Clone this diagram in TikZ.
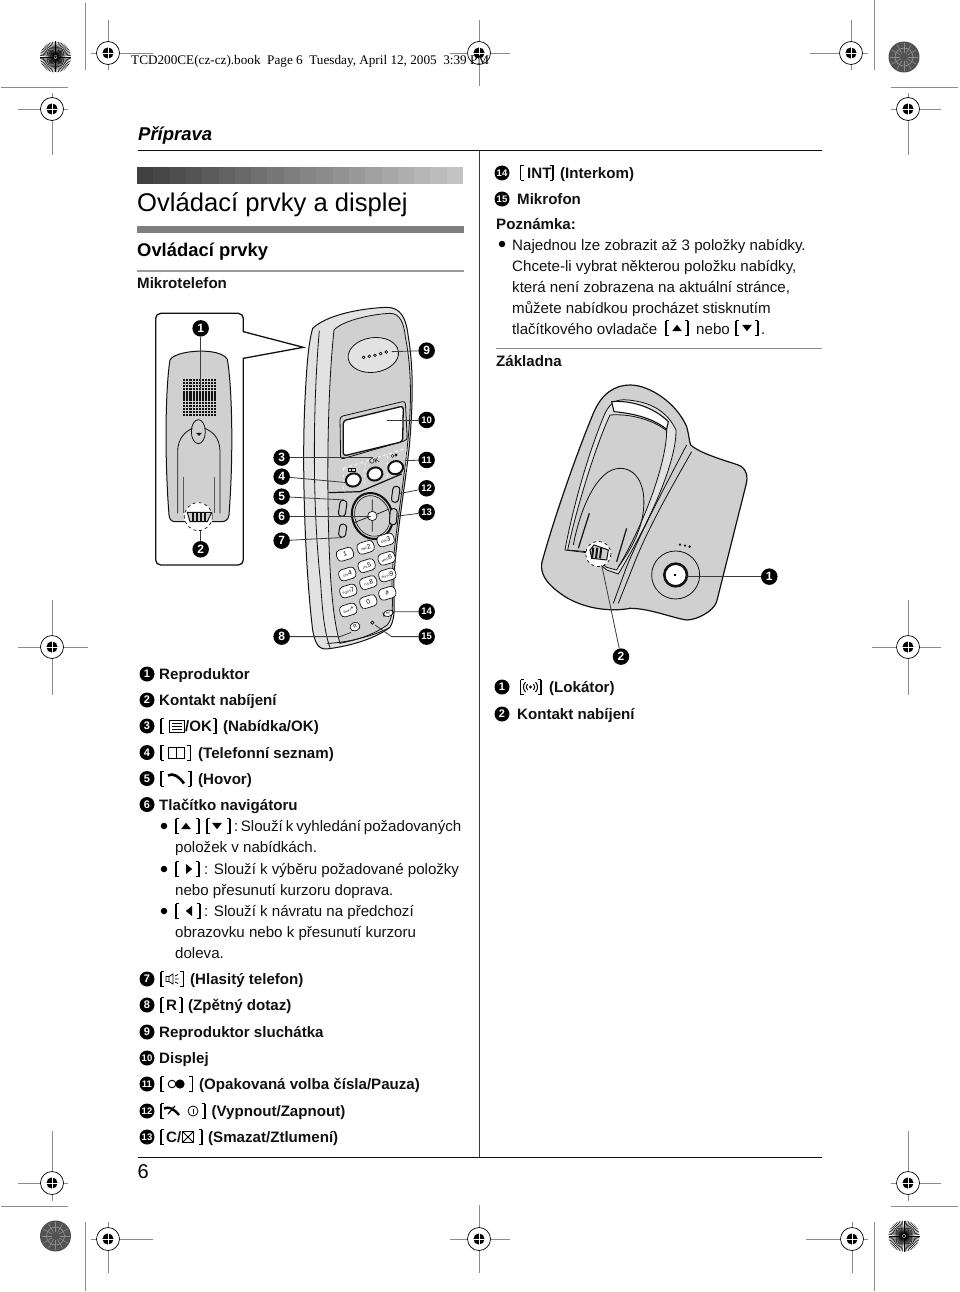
\documentclass[tikz,border=0pt]{standalone}
\usepackage{fontspec}
\setmainfont{Liberation Sans}
\newfontfamily\serifhead{Liberation Serif}
\usetikzlibrary{arrows.meta,positioning,shapes,calc}
\definecolor{ink}{HTML}{111111}
\definecolor{rulegray}{HTML}{7F7F7F}
\definecolor{regray}{HTML}{8C8C8C}
\definecolor{bodygray}{HTML}{D0D0D0}
\definecolor{edgegray}{HTML}{E2E2E2}
\definecolor{leadgray}{HTML}{3A3A3A}
\tikzset{
  marker/.style={circle,fill=black,text=white,inner sep=0pt,minimum size=16.5pt,
                 font=\bfseries\fontsize{12}{12}\selectfont},
  markerw/.style={marker,font=\bfseries\fontsize{9.5}{9.5}\selectfont},
  leader/.style={draw=leadgray,line width=0.8pt},
  itemtext/.style={anchor=base west,inner sep=0pt,font=\bfseries\fontsize{15.1}{15.1}\selectfont,text=ink},
  plaintext/.style={anchor=base west,inner sep=0pt,font=\fontsize{15.1}{15.1}\selectfont,text=ink},
  bulletdot/.style={circle,fill=black,inner sep=0pt,minimum size=6.5pt},
  phonekey/.style={draw=ink,fill=white,line width=0.7pt,rounded corners=4pt,inner sep=0pt,
                   minimum width=17pt,minimum height=11.5pt,rotate=17,
                   font=\fontsize{6.5}{6.5}\selectfont},
  softkey/.style={draw=ink,fill=white,line width=2pt,ellipse,inner sep=0pt,
                  minimum width=15pt,minimum height=13pt,rotate=17},
  sidekey/.style={draw=ink,fill=bodygray,line width=1pt,rounded corners=3pt,
                  inner sep=0pt,minimum width=7pt,minimum height=16pt,rotate=-8},
  phoneline/.style={draw=ink,line width=0.8pt},
  regline/.style={draw=regray,line width=0.9pt},
  brackl/.pic={\draw[line width=1.9pt] (0,-7.5)--(0,7.5);
               \draw[line width=0.8pt] (0,-7.5)--(3.2,-7.5) (0,7.5)--(3.2,7.5);},
  brackr/.pic={\draw[line width=1.9pt] (0,-7.5)--(0,7.5);
               \draw[line width=0.8pt] (0,-7.5)--(-3.2,-7.5) (0,7.5)--(-3.2,7.5);},
  uptri/.pic={\fill (-5,3.2)--(5,3.2)--(0,-3.2)--cycle;},
  downtri/.pic={\fill (-5,-3.2)--(5,-3.2)--(0,3.2)--cycle;},
  righttri/.pic={\fill (-3,-5)--(-3,5)--(3.2,0)--cycle;},
  lefttri/.pic={\fill (3,-5)--(3,5)--(-3.2,0)--cycle;},
  menuicon/.pic={\draw[line width=1pt] (-7.5,-6) rectangle (7.5,6);
                 \draw[line width=1pt] (-5,-3)--(5,-3) (-5,0)--(5,0) (-5,3)--(5,3);},
  bookicon/.pic={\draw[line width=1pt] (-8,-5.5) rectangle (0,5.5) (0,-5.5) rectangle (8,5.5);},
  handseticon/.pic={\draw[line width=2.6pt] (-8,-3) .. controls (-3,-6) and (3,-2) .. (8,5);},
  speakericon/.pic={\draw[line width=0.8pt] (-6,-2.5) rectangle (-3,2.5)
                    (-3,-2.5)--(1,-5)--(1,5)--(-3,2.5)
                    (3,-3)--(6,-4.5) (3,0)--(6.5,0) (3,3)--(6,4.5);},
  redialicon/.pic={\draw[line width=0.9pt] (-4,0) circle[radius=3.8];
                   \fill (4,0) circle[radius=4.6];},
  officon/.pic={\draw[line width=2.4pt] (-8,-2.5) .. controls (-3,-5) and (2,-2) .. (7,4);
                \draw[line width=1.2pt] (-4,3)--(3,-5);
                \draw[line width=0.8pt] (21,0) circle[radius=5];
                \draw[line width=1pt] (21,-2.5)--(21,2.5);},
  muteicon/.pic={\draw[line width=0.8pt] (-5.5,-5.5) rectangle (5.5,5.5)
                 (-5.5,-5.5)--(5.5,5.5) (-5.5,5.5)--(5.5,-5.5);},
  locicon/.pic={\fill (0,0) circle[radius=1.6];
                \draw[line width=1pt] (-3,3) arc[start angle=135,end angle=225,radius=4.2]
                 (-5,5) arc[start angle=135,end angle=225,radius=7]
                 (3,3) arc[start angle=45,end angle=-45,radius=4.2]
                 (5,5) arc[start angle=45,end angle=-45,radius=7];},
  regmark/.pic={\draw[line width=0.7pt,fill=white] (0,0) circle[radius=11.5];
                \fill (0,0) circle[radius=5.6];
                \draw[white,line width=0.8pt] (-5.6,0)--(5.6,0) (0,-5.6)--(0,5.6);},
  starlight/.pic={\fill[white] (0,0) circle[radius=15.5];
                  \foreach \a in {0,6,...,354}{\draw[line width=0.5pt] (\a:2)--(\a:15.5);}
                  \fill (0,0) circle[radius=1.5];},
  stardark/.pic={\fill[black!68] (0,0) circle[radius=15.5];
                 \foreach \a in {0,30,...,330}{\draw[black!45,line width=0.6pt] (\a:4)--(\a:14);}
                 \draw[black!40,line width=0.6pt] (0,0) circle[radius=9];}
}
\begin{document}
\begin{tikzpicture}[x=1pt,y=-1pt]
  \useasboundingbox (0,0) rectangle (960,1292);

  % printer marks
  \foreach \cx/\cy/\hl/\hr/\vt/\vb in {108/53/91/153/20/70,52/109/18/68/93/155,
     479/53/450/510/20/86,851/53/810/868/20/70,908/109/891/941/93/155,
     52/647/18/88/600/695,908/647/872/941/600/695,
     52/1183/18/68/1131/1201,908/1183/891/941/1131/1201,
     108/1239/91/153/1222/1273,479/1239/450/510/1205/1273,852/1239/806/868/1222/1273}{
    \draw[regline] (\hl,\cy)--(\hr,\cy) (\cx,\vt)--(\cx,\vb);
    \pic at (\cx,\cy) {regmark};
  }
  \pic at (55.5,57) {starlight};
  \pic at (904,1236) {starlight};
  \pic at (904,57) {stardark};
  \pic at (55.5,1236) {stardark};
  \draw[regline] (85,3)--(85,70) (1,87.5)--(68,87.5);
  \draw[regline] (874,0)--(874,70) (891,87.5)--(958,87.5);
  \draw[regline] (85,1222)--(85,1291) (1,1206)--(68,1206);
  \draw[regline] (874,1222)--(874,1291) (891,1206)--(958,1206);

  \node[anchor=base west,inner sep=0pt,font=\serifhead\fontsize{13.2}{13.2}\selectfont] (bookline) at (131,65)
    {TCD200CE(cz-cz).book\ \ Page 6\ \ Tuesday, April 12, 2005\ \ 3:39 PM};

  % page head
  \node[anchor=base west,inner sep=0pt,font=\bfseries\itshape\fontsize{18.5}{18.5}\selectfont] (chapter) at (138,141)
    {Příprava};
  \draw[ink,line width=1pt] (138,151)--(822,151);
  \draw[ink,line width=1pt] (138,1157.5)--(822,1157.5);
  \draw[leadgray,line width=1pt] (479,151)--(479,1157);
  \foreach \i in {0,...,19}{
    \pgfmathsetmacro{\shade}{75-\i*2.7}
    \fill[black!\shade] (137+\i*16.3,167) rectangle (137+\i*16.3+16.4,184);
  }
  \node[anchor=base west,inner sep=0pt,font=\fontsize{25.6}{25.6}\selectfont] (title) at (137,211.5)
    {Ovládací prvky a displej};
  \fill[rulegray] (137,226) rectangle (464,232.5);
  \node[anchor=base west,inner sep=0pt,font=\bfseries\fontsize{18.4}{18.4}\selectfont] (sect) at (137,256.5)
    {Ovládací prvky};
  \fill[black!40] (137,270) rectangle (464,271.8);
  \node[itemtext] (handsetname) at (137,288.5) {Mikrotelefon};
  \node[anchor=base west,inner sep=0pt,font=\fontsize{20}{20}\selectfont] (pageno) at (137.5,1178) {6};

  % handset, coordinates taken from a 3x crop
  \begin{scope}[shift={(130,300)},x=0.3333pt,y=-0.3333pt]
    % back view box with callout
    \draw[ink,line width=1.3pt,fill=white] (340,175) [rounded corners=5pt] -- (340,795) -- (77,795)
      -- (77,40) -- (340,40) [sharp corners] -- (340,95) -- (520,142) -- cycle;
    \draw[phoneline,fill=bodygray,line width=1pt] (120,180) .. controls (135,150) and (270,140) .. (292,178)
      .. controls (305,250) and (312,450) .. (297,645) .. controls (295,660) and (285,665) .. (275,665)
      -- (135,665) .. controls (125,665) and (118,658) .. (117,645)
      .. controls (102,450) and (108,250) .. (120,180) -- cycle;
    \foreach \gx in {0,...,10}{\foreach \gy in {0,...,12}{
      \fill[ink] (160+\gx*9.2,236+\gy*8.9) rectangle ++(6.2,6.2);
    }}
    \draw[phoneline] (143,640) -- (143,450) .. controls (145,415) and (165,395) .. (187,385);
    \draw[phoneline] (270,640) -- (270,450) .. controls (268,415) and (250,395) .. (224,385);
    \draw[phoneline] (205,395) ellipse[x radius=21,y radius=36];
    \fill[ink] (198,399) -- (216,399) -- (207,408) -- cycle;
    \draw[ink!70,line width=1.6pt] (160,530)--(160,640) (253,530)--(253,640);
    \draw[white,fill=white] (205,650) circle[radius=42];
    \draw[phoneline,dashed,line width=0.7pt] (205,650) circle[radius=42];
    \draw[phoneline,fill=bodygray,line width=1pt] (172,637) -- (245,637) -- (232,665) -- (180,665) -- cycle;
    \foreach \sx in {186,198,210,222}{\fill[ink] (\sx,635) rectangle ++(5,30);}
    \coordinate (backspk) at (212,270);
    \coordinate (backcon) at (212,692);
    \node[marker] (mk1) at (212,85) {1};
    \node[marker] (mk2) at (212,748) {2};
    \draw[leader] (mk1) -- (backspk);
    \draw[leader] (mk2) -- (backcon);

    % front body
    \draw[phoneline,fill=edgegray,line width=1pt] (548,85) .. controls (590,45) and (690,25) .. (770,22)
      .. controls (810,22) and (828,50) .. (835,110) .. controls (850,200) and (850,300) .. (838,440)
      .. controls (825,560) and (800,700) .. (792,830) .. controls (790,900) and (800,950) .. (780,982)
      .. controls (730,1020) and (650,1040) .. (590,1047) .. controls (565,1048) and (555,1030) .. (548,990)
      .. controls (525,800) and (515,500) .. (525,300) .. controls (530,200) and (535,130) .. (548,85) -- cycle;
    \draw[phoneline,fill=bodygray] (612,90) .. controls (640,60) and (730,42) .. (780,40)
      .. controls (810,40) and (822,70) .. (826,110) .. controls (846,210) and (845,320) .. (832,440)
      .. controls (820,560) and (795,700) .. (786,830) .. controls (785,890) and (795,950) .. (772,975)
      .. controls (730,1005) and (680,1020) .. (630,1030) .. controls (615,980) and (605,900) .. (600,800)
      .. controls (590,600) and (590,300) .. (612,90) -- cycle;
    \draw[phoneline] (568,92) .. controls (550,300) and (545,600) .. (572,850) .. controls (578,950) and (585,1000) .. (600,1043);
    \draw[phoneline] (590,1030) .. controls (640,1030) and (730,1010) .. (780,982);
    % earpiece
    \draw[phoneline,fill=edgegray,rotate around={8:(730,165)}] (730,165) ellipse[x radius=76,y radius=52];
    \foreach \dx/\dy in {701/172,718/169,735/166,752/161,769/156}{
      \draw[ink,line width=0.7pt,fill=white] (\dx,\dy) circle[radius=4];
    }
    % display
    \draw[phoneline,rounded corners=3pt] (630,350) -- (826,303) -- (832,420) -- (632,478) -- cycle;
    \draw[phoneline,fill=white,line width=1.3pt,rounded corners=3pt] (640,362) -- (820,318) -- (818,425) -- (640,468) -- cycle;
    % soft key panel
    \draw[phoneline,line width=1.2pt] (595,578) -- (690,575) -- (815,522);
    \draw[white,dashed,line width=0.8pt] (640,505) -- (828,445) (640,505) -- (640,570)
      (705,488) -- (705,557) (772,468) -- (772,540) (828,445) -- (828,520);
    \draw[ink,line width=0.8pt] (655,505) rectangle (665,515) (665,505) rectangle (675,515);
    \node[font=\fontsize{7}{7}\selectfont,rotate=17] (oklabel) at (733,483) {OK};
    \fill[ink] (798,465) circle[radius=5];
    \draw[ink] (788,468) circle[radius=4.5];
    \node[softkey] (softa) at (670,540) {};
    \node[softkey] (softb) at (735,522) {};
    \node[softkey] (softc) at (797,503) {};
    % navigator
    \draw[ink,line width=2pt,fill=bodygray,rotate around={20:(727,648)}] (727,648) ellipse[x radius=60,y radius=70];
    \draw[ink,line width=0.6pt,rotate around={20:(727,648)}] (727,648) ellipse[x radius=52,y radius=62];
    \draw[ink,line width=0.7pt] (727,598)--(727,634) (727,662)--(727,695) (672,668)--(714,652) (740,643)--(775,628);
    \draw[ink,line width=0.7pt,fill=white] (727,648) circle[radius=14];
    \node[sidekey] (talk) at (638,625) {};
    \node[sidekey,minimum height=13pt] (spk) at (638,692) {};
    \node[sidekey] (offk) at (797,583) {};
    \node[sidekey,rotate=4] (cmute) at (790,650) {};
    % keypad
    \foreach \kx/\ky/\kn/\ksm/\kdig in {645/763/one//1,707/742/two/ABC/2,767/720/three/DEF/3,
        652/822/four/GHI/4,710/797/five/JKL/5,770/775/six/MNO/6,
        655/873/seven/PQRS/7,715/848/eight/TUV/8,772/825/nine/WXYZ/9,
        655/930/star/SHIFT/*,715/905/zero//0,772/880/hash//\#}{
      \node[phonekey] (key\kn) at (\kx,\ky) {{\fontsize{3}{3}\selectfont\ksm}\kdig};
    }
    \node[phonekey,minimum width=10pt,minimum height=6pt,font=\fontsize{3}{3}\selectfont] (keyint) at (775,940) {INT};
    \node[phonekey,minimum width=10pt,minimum height=8pt,font=\fontsize{5}{5}\selectfont] (keyr) at (675,980) {R};
    \draw[ink,line width=0.7pt] (727,968) circle[radius=5];
    % labels
    \coordinate (ptspk) at (785,155);
    \coordinate (ptdisp) at (770,360);
    \coordinate (ptredial) at (825,482);
    \coordinate (ptmic) at (735,975);
    \coordinate (ptmicb) at (785,1010);
    \coordinate (ptr) at (630,1010);
    \coordinate (ptmenu) at (730,473);
    \coordinate (ptnav) at (722,650);
    \node[marker] (mk3) at (455,473) {3};
    \node[marker] (mk4) at (455,530) {4};
    \node[marker] (mk5) at (455,590) {5};
    \node[marker] (mk6) at (455,650) {6};
    \node[marker] (mk7) at (455,722) {7};
    \node[marker] (mk8) at (455,1010) {8};
    \node[marker] (mk9) at (890,152) {9};
    \node[markerw] (mk10) at (890,360) {10};
    \node[markerw] (mk11) at (890,480) {11};
    \node[markerw] (mk12) at (890,565) {12};
    \node[markerw] (mk13) at (890,637) {13};
    \node[markerw] (mk14) at (890,935) {14};
    \node[markerw] (mk15) at (890,1010) {15};
    \draw[leader] (mk3) -- (ptmenu);
    \draw[leader] (mk4) -- (softa.west);
    \draw[leader] (mk5) -- (talk.north);
    \draw[leader] (mk6) -- (ptnav);
    \draw[leader] (mk7) -- (spk.south);
    \draw[leader] (mk8) -- (ptr) -- (keyr.south west);
    \draw[leader] (mk9) -- (ptspk);
    \draw[leader] (mk10) -- (ptdisp);
    \draw[leader] (mk11) -- (ptredial);
    \draw[leader] (mk12) -- (offk);
    \draw[leader] (mk13) -- (cmute);
    \draw[leader] (mk14) -- (keyint.east);
    \draw[leader] (mk15) -- (ptmicb) -- (ptmic);
  \end{scope}

  % base unit
  \begin{scope}[shift={(490,370)},x=0.3333pt,y=-0.3333pt]
    \draw[phoneline,fill=bodygray,line width=1.2pt] (155,580) .. controls (190,450) and (260,250) .. (310,130)
      .. controls (335,70) and (375,45) .. (420,45) .. controls (480,45) and (560,100) .. (590,170)
      .. controls (597,195) and (598,215) .. (602,225) .. controls (630,250) and (700,270) .. (745,285)
      .. controls (770,295) and (775,320) .. (768,345) -- (680,695)
      .. controls (670,725) and (620,750) .. (590,750) .. controls (550,745) and (480,715) .. (420,715)
      .. controls (370,725) and (290,720) .. (225,680) .. controls (180,650) and (150,620) .. (155,580) -- cycle;
    % handle and cradle
    \draw[phoneline,fill=edgegray] (225,540) .. controls (245,430) and (290,260) .. (345,130)
      .. controls (365,90) and (385,85) .. (430,92) .. controls (490,100) and (535,130) .. (558,180)
      .. controls (560,260) and (500,420) .. (385,612) -- (350,600) -- (290,548) -- cycle;
    \draw[phoneline,fill=white,line width=1.1pt] (365,95) .. controls (420,90) and (490,110) .. (535,155)
      -- (530,178) .. controls (490,145) and (430,130) .. (372,125) -- cycle;
    \draw[phoneline,fill=bodygray] (233,540) .. controls (260,410) and (320,220) .. (360,135)
      .. controls (420,130) and (490,150) .. (530,182) .. controls (530,270) and (470,450) .. (380,600)
      -- (350,592) -- (290,545) -- cycle;
    \draw[phoneline] (250,525) .. controls (270,420) and (320,295) .. (390,295)
      .. controls (450,295) and (480,370) .. (450,470) .. controls (430,530) and (400,570) .. (385,590);
    \draw[ink,line width=1.2pt] (298,430)--(265,535) (410,475)--(380,575);
    \draw[phoneline] (605,245) .. controls (540,360) and (470,480) .. (425,600) -- (385,700);
    \draw[phoneline] (590,225) .. controls (530,340) and (460,470) .. (410,590) -- (370,700);
    \fill[white] (325,552) circle[radius=38];
    \draw[phoneline,dashed,line width=0.7pt] (325,552) circle[radius=38];
    \draw[ink,fill=bodygray,line width=1pt] (300,540) -- (312,525) -- (355,540) -- (350,570) -- (305,565) -- cycle;
    \foreach \sx in {310,322,334}{\draw[ink,line width=2pt] (\sx,533) -- (\sx-4,565);}
    % locator button
    \draw[phoneline] (557,615) circle[radius=72];
    \draw[ink,line width=2.6pt,fill=white] (557,615) circle[radius=34];
    \foreach \dx/\dy in {570/524,585/527,599/530}{\fill[ink] (\dx,\dy) circle[radius=4];}
    \begin{scope}[shift={(555,615)},x=0.15pt,y=-0.15pt,line width=0.4pt]
      \pic {locicon};
    \end{scope}
    \coordinate (ptloc) at (585,620);
    \coordinate (ptcon) at (335,585);
    \node[marker] (bs1) at (838,620) {1};
    \node[marker] (bs2) at (393,860) {2};
    \draw[leader] (bs1) -- (ptloc);
    \draw[leader] (bs2) -- (ptcon);
  \end{scope}

  % left list
  \foreach \num/\cy in {1/674,2/700,3/726,4/752.5,5/778.5,6/804.5,7/979,8/1005,9/1032}{
    \node[marker,minimum size=15pt,font=\bfseries\fontsize{11}{11}\selectfont] (li\num) at (147,\cy) {\num};
  }
  \foreach \num/\cy in {10/1058,11/1084,12/1111,13/1137}{
    \node[markerw,minimum size=15pt] (li\num) at (147,\cy) {\num};
  }
  \foreach \cy in {726,752.5,778.5,979,1005,1084,1111,1137}{
    \pic at (161,\cy) {brackl};
  }
  \node[itemtext] (t1) at (159,679.5) {Reproduktor};
  \node[itemtext] (t2) at (159,705.5) {Kontakt nabíjení};
  \pic at (176.5,726) {menuicon};
  \node[itemtext] (t3a) at (185,731.5) {/OK};
  \pic at (216,726) {brackr};
  \node[itemtext] (t3) at (223,731.5) {(Nabídka/OK)};
  \pic at (176,752.5) {bookicon};
  \pic at (190.5,752.5) {brackr};
  \node[itemtext] (t4) at (198,758) {(Telefonní seznam)};
  \pic at (176,778.5) {handseticon};
  \pic at (191,778.5) {brackr};
  \node[itemtext] (t5) at (198,784) {(Hovor)};
  \node[itemtext] (t6) at (159,810) {Tlačítko navigátoru};
  \node[bulletdot] (bu1) at (164,826) {};
  \pic at (175.7,826) {brackl};
  \pic at (186,826) {uptri};
  \pic at (199,826) {brackr};
  \pic at (207,826) {brackl};
  \pic at (217,826) {downtri};
  \pic at (230,826) {brackr};
  \node[plaintext] (t6a) at (234,831.5) {\spaceskip=2.95pt :\,Slouží k vyhledání požadovaných};
  \node[plaintext] (t6b) at (175,852.5) {položek v nabídkách.};
  \node[bulletdot] (bu2) at (164,869) {};
  \pic at (175.7,869) {brackl};
  \pic at (189,869) {righttri};
  \pic at (199,869) {brackr};
  \node[plaintext] (t6c) at (204,874.5) {: Slouží k výběru požadované položky};
  \node[plaintext] (t6d) at (175,895) {nebo přesunutí kurzoru doprava.};
  \node[bulletdot] (bu3) at (164,911) {};
  \pic at (176,911) {brackl};
  \pic at (189,911) {lefttri};
  \pic at (200,911) {brackr};
  \node[plaintext] (t6e) at (204,916.5) {: Slouží k návratu na předchozí};
  \node[plaintext] (t6f) at (175,937.5) {obrazovku nebo k přesunutí kurzoru};
  \node[plaintext] (t6g) at (175,958.5) {doleva.};
  \pic at (172,979) {speakericon};
  \pic at (183.5,979) {brackr};
  \node[itemtext] (t7) at (190,984.5) {(Hlasitý telefon)};
  \node[itemtext] (t8a) at (166,1010.5) {R};
  \pic at (182,1005) {brackr};
  \node[itemtext] (t8) at (188,1010.5) {(Zpětný dotaz)};
  \node[itemtext] (t9) at (159,1037.5) {Reproduktor sluchátka};
  \node[itemtext] (t10) at (159,1063.5) {Displej};
  \pic at (176,1084) {redialicon};
  \pic at (192.5,1084) {brackr};
  \node[itemtext] (t11) at (199,1089.5) {(Opakovaná volba čísla/Pauza)};
  \pic at (172,1111) {officon};
  \pic at (205,1111) {brackr};
  \node[itemtext] (t12) at (211.5,1116.5) {(Vypnout/Zapnout)};
  \node[itemtext] (t13a) at (166,1142.5) {C/};
  \pic at (188,1137) {muteicon};
  \pic at (202,1137) {brackr};
  \node[itemtext] (t13) at (208,1142.5) {(Smazat/Ztlumení)};

  % right column
  \node[markerw,minimum size=15pt] (ri14) at (502,173) {14};
  \pic at (520.5,173) {brackl};
  \node[itemtext] (r14a) at (527,178.5) {INT};
  \pic at (553,173) {brackr};
  \node[itemtext] (r14) at (560,178.5) {(Interkom)};
  \node[markerw,minimum size=15pt] (ri15) at (502,199) {15};
  \node[itemtext] (r15) at (517,204.5) {Mikrofon};
  \node[itemtext] (note) at (496,229.5) {Poznámka:};
  \node[bulletdot] (bu4) at (502,244) {};
  \node[plaintext] (n1) at (512,250) {Najednou lze zobrazit až 3 položky nabídky.};
  \node[plaintext] (n2) at (512,271.5) {Chcete-li vybrat některou položku nabídky,};
  \node[plaintext] (n3) at (512,292.5) {která není zobrazena na aktuální stránce,};
  \node[plaintext] (n4) at (512,313) {můžete nabídkou procházet stisknutím};
  \node[plaintext] (n5) at (512,334) {tlačítkového ovladače};
  \pic at (665.7,328) {brackl};
  \pic at (677,328) {uptri};
  \pic at (688,328) {brackr};
  \node[plaintext] (n5a) at (696,334) {nebo};
  \pic at (735.7,328) {brackl};
  \pic at (747,328) {downtri};
  \pic at (758,328) {brackr};
  \node[plaintext] (n5b) at (761,334) {.};
  \fill[black!45] (496,347.5) rectangle (822,349.3);
  \node[itemtext] (basename) at (496,366.5) {Základna};
  \node[marker,minimum size=15pt,font=\bfseries\fontsize{11}{11}\selectfont] (rb1) at (502,687) {1};
  \pic at (520.5,687) {brackl};
  \pic at (530.5,687) {locicon};
  \pic at (541,687) {brackr};
  \node[itemtext] (rb1t) at (549,692.5) {(Lokátor)};
  \node[marker,minimum size=15pt,font=\bfseries\fontsize{11}{11}\selectfont] (rb2) at (502,714) {2};
  \node[itemtext] (rb2t) at (517,719.5) {Kontakt nabíjení};
\end{tikzpicture}
\end{document}
